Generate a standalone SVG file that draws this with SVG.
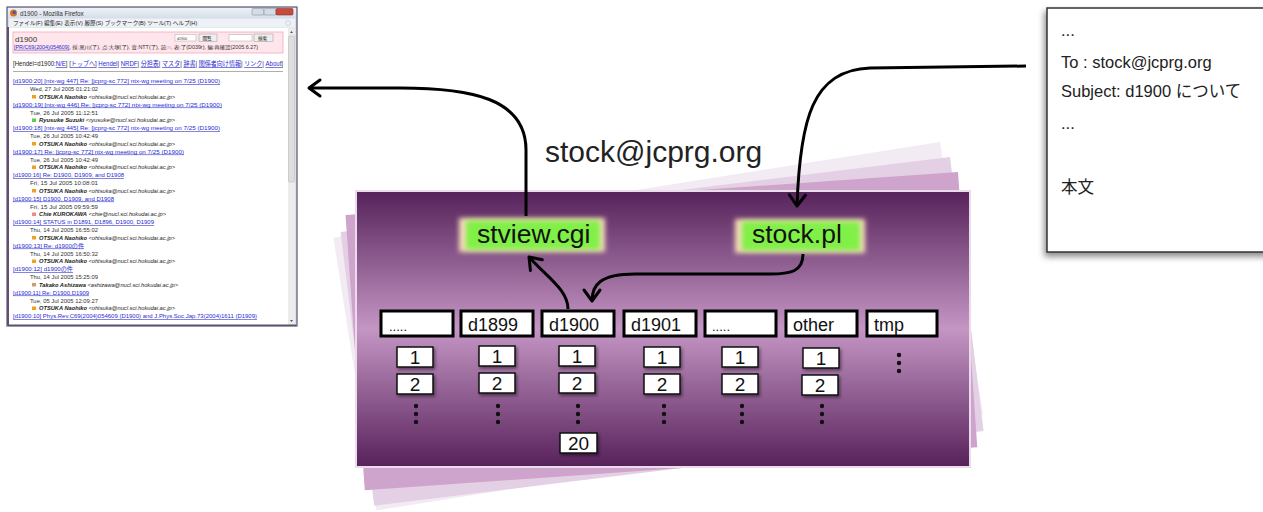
<svg xmlns="http://www.w3.org/2000/svg" width="1263" height="512" viewBox="0 0 1263 512">
<style>
.ff{font-family:"Liberation Sans","Noto Sans CJK JP",sans-serif}
.lk{fill:#2a2ad0;text-decoration:underline;font-size:5.8px}
.dt{fill:#333;font-size:5.7px}
.au{fill:#222;font-size:5.6px;font-style:italic}
.dir{fill:#fff;stroke:#000;stroke-width:3}
.dirt{font-family:"Liberation Sans",sans-serif;font-size:18px;fill:#111}
.num{fill:#fff;stroke:#111;stroke-width:1.5;filter:url(#sh)}
.numt{font-family:"Liberation Sans",sans-serif;font-size:19px;fill:#111;text-anchor:middle}
.dot{fill:#111}
.conn{fill:none;stroke:#000;stroke-width:3;marker-end:url(#chev)}
.et{font-family:"Liberation Sans","Noto Sans CJK JP",sans-serif;font-size:16.5px;fill:#222}
</style>
<defs>
<linearGradient id="purple" x1="0" y1="0" x2="0" y2="1">
<stop offset="0" stop-color="#56225a"/>
<stop offset="0.5" stop-color="#c496c4"/>
<stop offset="1" stop-color="#57215a"/>
</linearGradient>
<linearGradient id="title" x1="0" y1="0" x2="0" y2="1">
<stop offset="0" stop-color="#eef2f7"/>
<stop offset="1" stop-color="#d3dce7"/>
</linearGradient>
<filter id="blur" x="-20%" y="-50%" width="140%" height="200%"><feGaussianBlur stdDeviation="2.5"/></filter>
<filter id="sh" x="-30%" y="-30%" width="170%" height="170%"><feDropShadow dx="1.5" dy="2" stdDeviation="1.5" flood-color="#000" flood-opacity="0.45"/></filter>
<filter id="esh" x="-10%" y="-10%" width="120%" height="120%"><feDropShadow dx="-2" dy="4" stdDeviation="3" flood-color="#000" flood-opacity="0.45"/></filter>
<marker id="chev" markerUnits="userSpaceOnUse" markerWidth="30" markerHeight="30" viewBox="-15 -15 30 30" refX="0" refY="0" orient="auto">
<path d="M-11,-8 L0,0 L-11,8" fill="none" stroke="#000" stroke-width="3" stroke-linecap="round" stroke-linejoin="round"/>
</marker>
</defs>
<rect width="1263" height="512" fill="#fff"/>

<g id="browser" class="ff">
<rect x="7" y="7" width="290" height="319" fill="#d8e0ea" stroke="#5d5570" stroke-width="1.2"/>
<rect x="8" y="8" width="288" height="11" fill="url(#title)"/>
<circle cx="13.5" cy="13" r="3.5" fill="#e2731e"/>
<circle cx="14.2" cy="12.4" r="1.8" fill="#3b5fb0"/>
<text x="20" y="15.5" font-size="6.3" fill="#333">d1900 - Mozilla Firefox</text>
<rect x="252" y="8.5" width="12" height="6.5" rx="1" fill="#d4dce6" stroke="#8890a0" stroke-width="0.6"/>
<rect x="264" y="8.5" width="12" height="6.5" rx="1" fill="#d4dce6" stroke="#8890a0" stroke-width="0.6"/>
<rect x="276" y="8.5" width="17" height="6.5" rx="1" fill="#c84a3c" stroke="#8a3028" stroke-width="0.6"/>
<rect x="9" y="18.5" width="286" height="9" fill="#eef2f7"/>
<text x="13" y="25" font-size="5.6" fill="#222">ファイル(F)  編集(E)  表示(V)  履歴(S)  ブックマーク(B)  ツール(T)  ヘルプ(H)</text>
<circle cx="288" cy="23" r="2.5" fill="none" stroke="#c8ccd4" stroke-width="0.8"/>
<rect x="9" y="28" width="279" height="297" fill="#fff"/>
<rect x="288" y="28" width="7" height="297" fill="#ececec"/>
<rect x="288.5" y="36" width="6" height="146" rx="1" fill="#dedede" stroke="#b4b4b4" stroke-width="0.5"/>
<path d="M290,33 L291.5,31 L293,33 Z" fill="#555"/>
<path d="M290,320 L291.5,322 L293,320 Z" fill="#555"/>
<line x1="8" y1="27" x2="8" y2="325" stroke="#5f506e" stroke-width="2"/>
<line x1="8" y1="325.3" x2="296" y2="325.3" stroke="#5f506e" stroke-width="1.6"/>

<rect x="13" y="32" width="270" height="21" fill="#ffe6ec" stroke="#f0aab8" stroke-width="0.8"/>
<text x="15" y="41.5" font-size="8" fill="#333">d1900</text>
<rect x="175" y="34.5" width="21" height="6.5" fill="#fff" stroke="#aaa" stroke-width="0.5"/>
<text x="177" y="39.5" font-size="3.6" fill="#333">d1900</text>
<rect x="199" y="34" width="18" height="7.5" fill="#eee" stroke="#999" stroke-width="0.5"/>
<text x="202.5" y="40" font-size="4.6" fill="#222">閲覧</text>
<rect x="229" y="34.5" width="23" height="6.5" fill="#fff" stroke="#aaa" stroke-width="0.5"/>
<rect x="254" y="34" width="19" height="7.5" fill="#eee" stroke="#999" stroke-width="0.5"/>
<text x="258" y="40" font-size="4.6" fill="#222">検索</text>
<text x="14" y="48.8" font-size="5" fill="#333" textLength="244" lengthAdjust="spacingAndGlyphs"><tspan fill="#2a2ad0" text-decoration="underline">[PR/C69(2004)054609]</tspan>, 採:黒川(了), 点:大塚(了), 査:NTT(了), 読:○, 表:了(D039r), 編:再確認(2005.6.27)</text>

<text x="13" y="66" font-size="6.3" fill="#222" textLength="270" lengthAdjust="spacingAndGlyphs">[Hendel=d1900:<tspan fill="#2a2ad0" text-decoration="underline">N/E</tspan>] [<tspan fill="#2a2ad0" text-decoration="underline">トップへ</tspan>] <tspan fill="#2a2ad0" text-decoration="underline">Hendel</tspan>| <tspan fill="#2a2ad0" text-decoration="underline">NRDF</tspan>| <tspan fill="#2a2ad0" text-decoration="underline">分担表</tspan>| <tspan fill="#2a2ad0" text-decoration="underline">マスタ</tspan>| <tspan fill="#2a2ad0" text-decoration="underline">辞書</tspan>| <tspan fill="#2a2ad0" text-decoration="underline">関係者向け情報</tspan>| <tspan fill="#2a2ad0" text-decoration="underline">リンク</tspan>| <tspan fill="#2a2ad0" text-decoration="underline">About</tspan>]</text>
<line x1="13" y1="71.5" x2="283" y2="71.5" stroke="#999" stroke-width="0.8"/>

<text class="lk" x="13" y="83" textLength="207" lengthAdjust="spacingAndGlyphs">[d1900:20] [ntx-wg 447] Re: [jcprg-sc 772] ntx-wg meeting on 7/25 (D1900)</text>
<text class="dt" x="30" y="91" textLength="68" lengthAdjust="spacingAndGlyphs">Wed, 27 Jul 2005 01:21:02</text>
<rect x="32" y="95" width="4" height="3.5" fill="#f0a020"/>
<text class="au" x="39" y="98.8" textLength="136" lengthAdjust="spacingAndGlyphs"><tspan font-weight="bold">OTSUKA Naohiko</tspan> &lt;ohtsuka@nucl.sci.hokudai.ac.jp&gt;</text>

<text class="lk" x="13" y="106.5" textLength="209" lengthAdjust="spacingAndGlyphs">[d1900:19] [ntx-wg 446] Re: [jcprg-sc 772] ntx-wg meeting on 7/25 (D1900)</text>
<text class="dt" x="30" y="114.5" textLength="68" lengthAdjust="spacingAndGlyphs">Tue, 26 Jul 2005 11:12:51</text>
<rect x="32" y="118.5" width="4" height="3.5" fill="#5ccc5c"/>
<text class="au" x="39" y="122.3" textLength="136" lengthAdjust="spacingAndGlyphs"><tspan font-weight="bold">Ryusuke Suzuki</tspan> &lt;ryusuke@nucl.sci.hokudai.ac.jp&gt;</text>

<text class="lk" x="13" y="130" textLength="207" lengthAdjust="spacingAndGlyphs">[d1900:18] [ntx-wg 445] Re: [jcprg-sc 772] ntx-wg meeting on 7/25 (D1900)</text>
<text class="dt" x="30" y="138" textLength="68" lengthAdjust="spacingAndGlyphs">Tue, 26 Jul 2005 10:42:49</text>
<rect x="32" y="142" width="4" height="3.5" fill="#f0a020"/>
<text class="au" x="39" y="145.8" textLength="136" lengthAdjust="spacingAndGlyphs"><tspan font-weight="bold">OTSUKA Naohiko</tspan> &lt;ohtsuka@nucl.sci.hokudai.ac.jp&gt;</text>

<text class="lk" x="13" y="153.5" textLength="171" lengthAdjust="spacingAndGlyphs">[d1900:17] Re: [jcprg-sc 772] ntx-wg meeting on 7/25 (D1900)</text>
<text class="dt" x="30" y="161.5" textLength="68" lengthAdjust="spacingAndGlyphs">Tue, 26 Jul 2005 10:42:49</text>
<rect x="32" y="165.5" width="4" height="3.5" fill="#f0a020"/>
<text class="au" x="39" y="169.3" textLength="136" lengthAdjust="spacingAndGlyphs"><tspan font-weight="bold">OTSUKA Naohiko</tspan> &lt;ohtsuka@nucl.sci.hokudai.ac.jp&gt;</text>

<text class="lk" x="13" y="177" textLength="111" lengthAdjust="spacingAndGlyphs">[d1900:16] Re: D1900, D1909, and D1908</text>
<text class="dt" x="30" y="185" textLength="68" lengthAdjust="spacingAndGlyphs">Fri, 15 Jul 2005 10:08:01</text>
<rect x="32" y="189" width="4" height="3.5" fill="#f0a020"/>
<text class="au" x="39" y="192.8" textLength="136" lengthAdjust="spacingAndGlyphs"><tspan font-weight="bold">OTSUKA Naohiko</tspan> &lt;ohtsuka@nucl.sci.hokudai.ac.jp&gt;</text>

<text class="lk" x="13" y="200.5" textLength="101" lengthAdjust="spacingAndGlyphs">[d1900:15] D1900, D1909, and D1908</text>
<text class="dt" x="30" y="208.5" textLength="68" lengthAdjust="spacingAndGlyphs">Fri, 15 Jul 2005 09:59:59</text>
<rect x="32" y="212.5" width="4" height="3.5" fill="#f08a8a"/>
<text class="au" x="39" y="216.3" textLength="127" lengthAdjust="spacingAndGlyphs"><tspan font-weight="bold">Chie KUROKAWA</tspan> &lt;chie@nucl.sci.hokudai.ac.jp&gt;</text>

<text class="lk" x="13" y="224" textLength="141" lengthAdjust="spacingAndGlyphs">[d1900:14] STATUS in D1891, D1896, D1900, D1909</text>
<text class="dt" x="30" y="232" textLength="68" lengthAdjust="spacingAndGlyphs">Thu, 14 Jul 2005 16:55:02</text>
<rect x="32" y="236" width="4" height="3.5" fill="#f0a020"/>
<text class="au" x="39" y="239.8" textLength="136" lengthAdjust="spacingAndGlyphs"><tspan font-weight="bold">OTSUKA Naohiko</tspan> &lt;ohtsuka@nucl.sci.hokudai.ac.jp&gt;</text>

<text class="lk" x="13" y="247.5" textLength="71" lengthAdjust="spacingAndGlyphs">[d1900:13] Re: d1900の件</text>
<text class="dt" x="30" y="255.5" textLength="68" lengthAdjust="spacingAndGlyphs">Thu, 14 Jul 2005 16:50:32</text>
<rect x="32" y="259.5" width="4" height="3.5" fill="#f0a020"/>
<text class="au" x="39" y="263.3" textLength="136" lengthAdjust="spacingAndGlyphs"><tspan font-weight="bold">OTSUKA Naohiko</tspan> &lt;ohtsuka@nucl.sci.hokudai.ac.jp&gt;</text>

<text class="lk" x="13" y="271" textLength="60" lengthAdjust="spacingAndGlyphs">[d1900:12] d1900の件</text>
<text class="dt" x="30" y="279" textLength="68" lengthAdjust="spacingAndGlyphs">Thu, 14 Jul 2005 15:25:09</text>
<rect x="32" y="283" width="4" height="3.5" fill="#c4a070"/>
<text class="au" x="39" y="286.8" textLength="139" lengthAdjust="spacingAndGlyphs"><tspan font-weight="bold">Takako  Ashizawa</tspan> &lt;ashizawa@nucl.sci.hokudai.ac.jp&gt;</text>

<text class="lk" x="13" y="294.5" textLength="76" lengthAdjust="spacingAndGlyphs">[d1900:11] Re: D1900,D1909</text>
<text class="dt" x="30" y="302.5" textLength="68" lengthAdjust="spacingAndGlyphs">Tue, 05 Jul 2005 12:09:27</text>
<rect x="32" y="306.5" width="4" height="3.5" fill="#f0a020"/>
<text class="au" x="39" y="310.3" textLength="136" lengthAdjust="spacingAndGlyphs"><tspan font-weight="bold">OTSUKA Naohiko</tspan> &lt;ohtsuka@nucl.sci.hokudai.ac.jp&gt;</text>

<text class="lk" x="13" y="318" textLength="244" lengthAdjust="spacingAndGlyphs">[d1900:10] Phys.Rev.C69(2004)054609 (D1900) and J.Phys.Soc.Jap.73(2004)1611 (D1909)</text>
</g>

<g id="storage">
<polygon points="333.4,237.8 940,142 983.1,414.6 376.5,510.4" fill="#f3ebf3"/>
<polygon points="340.6,231.9 950,157 983.6,430.9 374.2,505.8" fill="#e4d0e4"/>
<polygon points="345.5,214.9 958,172 977.3,447.3 364.8,490.2" fill="#cfa4cc"/>
<rect x="356" y="191" width="614" height="276" fill="url(#purple)" stroke="#eadcea" stroke-width="2"/>
</g>

<text id="address" x="545" y="162" font-family="Liberation Sans, sans-serif" font-size="30" fill="#222">stock@jcprg.org</text>

<g id="stview">
<rect x="459" y="218" width="146" height="34" fill="#f4dcb8" filter="url(#blur)"/>
<rect x="466" y="220.5" width="134" height="29" fill="#80f046" filter="url(#blur)"/>
<text x="477" y="243" font-family="Liberation Sans, sans-serif" font-size="26.5" fill="#111">stview.cgi</text>
</g>
<g id="stockpl">
<rect x="735" y="219" width="130" height="34" fill="#f4dcb8" filter="url(#blur)"/>
<rect x="742" y="221.5" width="118" height="29" fill="#80f046" filter="url(#blur)"/>
<text x="752" y="243" font-family="Liberation Sans, sans-serif" font-size="26.5" fill="#111">stock.pl</text>
</g>

<g id="dir-dots1">
<rect class="dir" x="381" y="311" width="72" height="25"/>
<text x="389" y="331" font-family="Liberation Sans, sans-serif" font-size="13" fill="#111">.....</text>
<rect class="num" x="397" y="347" width="36" height="20"/><text class="numt" x="415" y="364">1</text>
<rect class="num" x="397" y="374" width="36" height="20"/><text class="numt" x="415" y="391">2</text>
<circle class="dot" cx="416" cy="406" r="2.2"/><circle class="dot" cx="416" cy="414" r="2.2"/><circle class="dot" cx="416" cy="422" r="2.2"/>
</g>
<g id="dir-d1899">
<rect class="dir" x="461" y="311" width="72" height="25"/>
<text class="dirt" x="468" y="331">d1899</text>
<rect class="num" x="479" y="346" width="36" height="20"/><text class="numt" x="497" y="363">1</text>
<rect class="num" x="479" y="373" width="36" height="20"/><text class="numt" x="497" y="390">2</text>
<circle class="dot" cx="498" cy="406" r="2.2"/><circle class="dot" cx="498" cy="414" r="2.2"/><circle class="dot" cx="498" cy="422" r="2.2"/>
</g>
<g id="dir-d1900">
<rect class="dir" x="542" y="311" width="72" height="25"/>
<text class="dirt" x="549" y="331">d1900</text>
<rect class="num" x="559" y="346" width="36" height="20"/><text class="numt" x="577" y="363">1</text>
<rect class="num" x="559" y="373" width="36" height="20"/><text class="numt" x="577" y="390">2</text>
<circle class="dot" cx="578" cy="406" r="2.2"/><circle class="dot" cx="578" cy="414" r="2.2"/><circle class="dot" cx="578" cy="422" r="2.2"/>
<rect class="num" x="560" y="433" width="37" height="20"/><text class="numt" x="578.5" y="450">20</text>
</g>
<g id="dir-d1901">
<rect class="dir" x="624" y="311" width="72" height="25"/>
<text class="dirt" x="631" y="331">d1901</text>
<rect class="num" x="644" y="347" width="36" height="20"/><text class="numt" x="662" y="364">1</text>
<rect class="num" x="644" y="374" width="36" height="20"/><text class="numt" x="662" y="391">2</text>
<circle class="dot" cx="664" cy="406" r="2.2"/><circle class="dot" cx="664" cy="414" r="2.2"/><circle class="dot" cx="664" cy="422" r="2.2"/>
</g>
<g id="dir-dots2">
<rect class="dir" x="705" y="311" width="71" height="25"/>
<text x="712" y="331" font-family="Liberation Sans, sans-serif" font-size="13" fill="#111">.....</text>
<rect class="num" x="722" y="347" width="36" height="20"/><text class="numt" x="740" y="364">1</text>
<rect class="num" x="722" y="374" width="36" height="20"/><text class="numt" x="740" y="391">2</text>
<circle class="dot" cx="742" cy="406" r="2.2"/><circle class="dot" cx="742" cy="414" r="2.2"/><circle class="dot" cx="742" cy="422" r="2.2"/>
</g>
<g id="dir-other">
<rect class="dir" x="786" y="311" width="71" height="25"/>
<text class="dirt" x="793" y="331">other</text>
<rect class="num" x="803" y="348" width="36" height="20"/><text class="numt" x="821" y="365">1</text>
<rect class="num" x="802" y="375" width="36" height="20"/><text class="numt" x="820" y="392">2</text>
<circle class="dot" cx="822" cy="406" r="2.2"/><circle class="dot" cx="822" cy="414" r="2.2"/><circle class="dot" cx="822" cy="422" r="2.2"/>
</g>
<g id="dir-tmp">
<rect class="dir" x="867" y="311" width="70" height="25"/>
<text class="dirt" x="874" y="331">tmp</text>
<circle class="dot" cx="899" cy="355" r="2.2"/><circle class="dot" cx="899" cy="363" r="2.2"/><circle class="dot" cx="899" cy="371" r="2.2"/>
</g>

<g id="email">
<rect x="1047" y="8" width="222" height="244" fill="#fff" stroke="#333" stroke-width="1.5" filter="url(#esh)"/>
<text class="et" x="1061" y="36">...</text>
<text class="et" x="1061" y="68">To : stock@jcprg.org</text>
<text class="et" x="1061" y="97">Subject: d1900 について</text>
<text class="et" x="1061" y="129">...</text>
<text class="et" x="1061" y="193">本文</text>
</g>

<g id="connectors">
<path class="conn" d="M526,216 L526,150 C526,98 470,88 400,88 L309,88"/>
<path class="conn" d="M1026,66 L870,68 C812,70 800,120 797,206"/>
<path class="conn" d="M568,309 C568,290 548,278 529,257"/>
<path class="conn" d="M803,254 C803,272 790,274 770,274 L635,274 C600,274 592,285 592,301"/>
</g>
</svg>
